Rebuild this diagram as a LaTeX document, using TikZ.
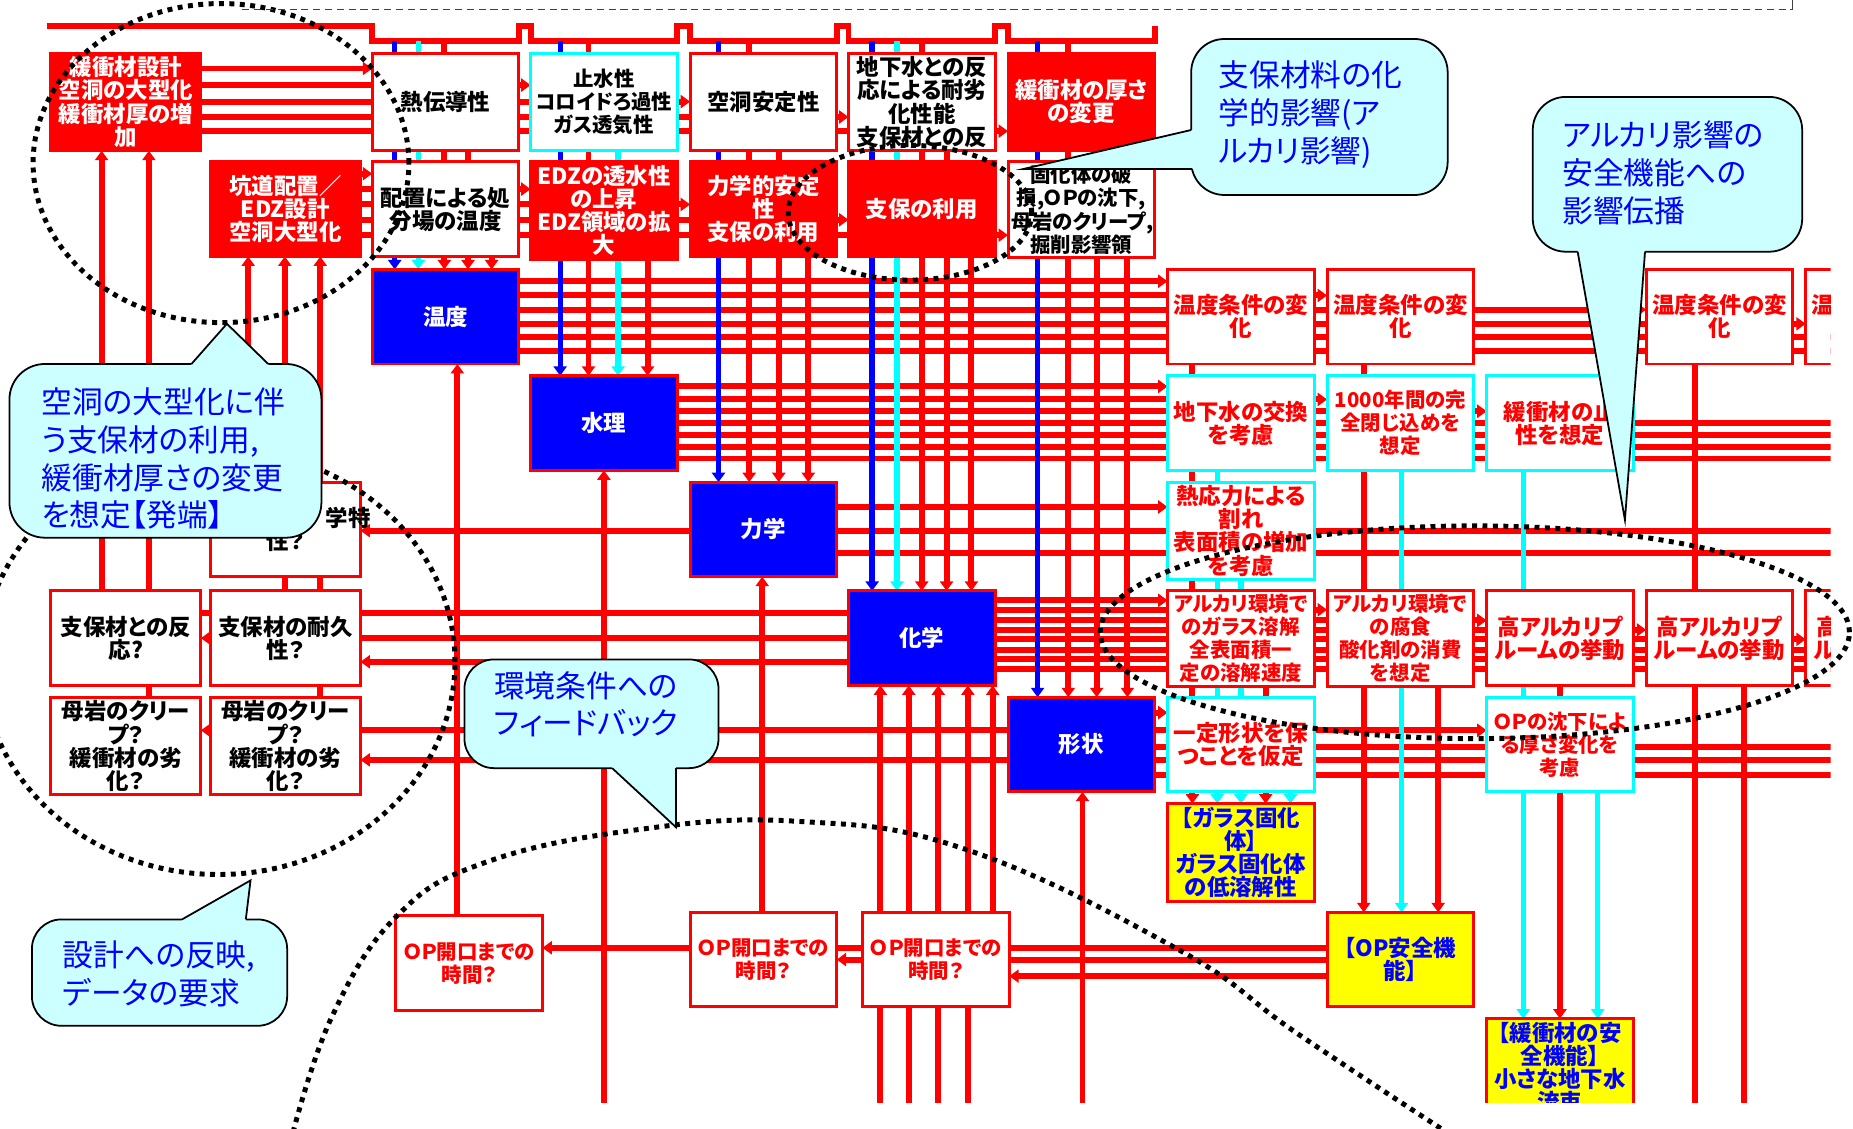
\documentclass[tikz,border=0pt]{standalone}
\usepackage{fontspec}
\usetikzlibrary{arrows.meta}
\newfontfamily\jp{Noto Sans CJK JP}[RawFeature=+palt]
\definecolor{cofill}{RGB}{204,255,255}
\definecolor{cy}{RGB}{0,255,255}
\definecolor{yl}{RGB}{255,255,0}
\definecolor{rd}{RGB}{255,0,0}
\definecolor{bu}{RGB}{0,0,255}
\newcommand\jpbox{\jp\bfseries\fontsize{19}{19.5}\selectfont}
\newcommand\jpboxs{\jp\bfseries\fontsize{17.3}{19.5}\selectfont}
\newcommand\jpbig{\jp\fontsize{26}{32}\selectfont}
\pgfdeclarelayer{lines}
\pgfsetlayers{lines,main}
\tikzset{
  rl/.style={draw=rd,line width=5pt},
  bl/.style={draw=bu,line width=4.5pt},
  cl/.style={draw=cy,line width=4.5pt},
  arr/.style={-{Triangle[length=8pt,width=11pt]}},
  bx/.style={draw=rd,line width=2.5pt,fill=white,text=black,anchor=north west,
     text width=118pt,inner sep=3pt,outer sep=0pt,minimum height=80pt,align=center,font=\jpbox},
  wide/.style={text width=121pt},
  tall/.style={minimum height=82pt},
  small/.style={font=\jpboxs},
  rbx/.style={bx,fill=rd,text=white},
  cbx/.style={bx,draw=cy,text=rd},
  tbx/.style={bx,text=rd},
  ybx/.style={bx,fill=yl,text=bu},
  bbx/.style={bx,fill=bu,text=white},
  cobody/.style={fill=cofill,draw=black,line width=1.5pt},
  coline/.style={draw=black,line width=1.5pt},
  cotext/.style={anchor=west,align=left,font=\jpbig,text=bu,inner sep=0pt},
  dotell/.style={draw=black,line width=4.2pt,dash pattern=on 4.2pt off 4.6pt},
}
\begin{document}
\begin{tikzpicture}[x=1pt,y=-1pt]
\useasboundingbox (0,0) rectangle (1568,955);
\coordinate (redge) at (1560,0);

% ---------------- boxes ----------------
\begin{scope}
\clip (0,-20) rectangle (1549,933);
\node[rbx,wide,tall] (kanshozai) at (43,45) {緩衝材設計\\空洞の大型化\\緩衝材厚の増\\加};
\node[rbx,wide] (koudo) at (178,137) {坑道配置／\\EDZ設計\\空洞大型化};

\node[bx,tall] (n11) at (315,45) {熱伝導性};
\node[bx,tall,draw=cy,small] (n12) at (449,45) {止水性\\コロイドろ過性\\ガス透気性};
\node[bx,tall] (n13) at (584,45) {空洞安定性};
\node[bx,tall] (n14) at (718,45) {地下水との反\\応による耐劣\\化性能\\支保材との反};
\node[rbx,tall] (n15) at (853,45) {緩衝材の厚さ\\の変更};

\node[bx] (n21) at (315,137) {配置による処\\分場の温度};
\node[rbx] (n22) at (449,137) {EDZの透水性\\の上昇\\EDZ領域の拡\\大};
\node[rbx] (n23) at (584,137) {力学的安定\\性\\支保の利用};
\node[rbx] (n24) at (718,137) {支保の利用};
\node[bx,small] (n25) at (853,137) {固化体の破\\損,ＯＰの沈下,\\母岩のクリープ,\\掘削影響領};

\node[bbx] (ondo) at (315,228) {温度};
\node[bbx] (suiri) at (449,318) {水理};
\node[bbx] (rikigaku) at (584,408) {力学};
\node[bbx] (kagaku) at (718,500) {化学};
\node[bbx] (keijo) at (853,590) {形状};

\node[tbx] (tA) at (988,228) {温度条件の変\\化};
\node[tbx] (tB) at (1123,228) {温度条件の変\\化};
\node[tbx] (tD) at (1393,228) {温度条件の変\\化};
\node[tbx] (tE) at (1528,228) {温度条件の変\\化};

\node[cbx] (hA) at (988,318) {地下水の交換\\を考慮};
\node[cbx,small] (hB) at (1123,318) {1000年間の完\\全閉じ込めを\\想定};
\node[cbx] (hC) at (1258,318) {緩衝材の止\\性を想定};

\node[cbx] (mA) at (988,408) {熱応力による\\割れ\\表面積の増加\\を考慮};

\node[tbx,small] (cA) at (988,500) {アルカリ環境で\\のガラス溶解\\全表面積一\\定の溶解速度};
\node[tbx,small] (cB) at (1123,500) {アルカリ環境で\\の腐食\\酸化剤の消費\\を想定};
\node[tbx] (cC) at (1258,500) {高アルカリプ\\ルームの挙動};
\node[tbx] (cD) at (1393,500) {高アルカリプ\\ルームの挙動};
\node[tbx] (cE) at (1528,500) {高アルカリプ\\ルームの挙動};

\node[cbx] (sA) at (988,590) {一定形状を保\\つことを仮定};
\node[cbx,small] (sC) at (1258,590) {ＯＰの沈下によ\\る厚さ変化を\\考慮};

\node[ybx,tall] (yA) at (988,680) {【ガラス固化\\体】\\ガラス固化体\\の低溶解性};
\node[ybx] (yB) at (1123,772) {【OP安全機\\能】};
\node[ybx] (yC) at (1258,862) {【緩衝材の安\\全機能】\\小さな地下水\\流束};

\node[tbx,small] (op1) at (335,775) {ＯＰ開口までの\\時間？};
\node[tbx,small] (op2) at (584,772) {ＯＰ開口までの\\時間？};
\node[tbx,small] (op3) at (730,772) {ＯＰ開口までの\\時間？};

\node[bx,wide] (lM) at (178,408) {\phantom{支保材の力}学特\\性？};
\node[bx,wide] (lC1) at (43,500) {支保材との反\\応?};
\node[bx,wide] (lC2) at (178,500) {支保材の耐久\\性？};
\node[bx,wide,tall] (lS1) at (43,590) {母岩のクリー\\プ？\\緩衝材の劣\\化？};
\node[bx,wide,tall] (lS2) at (178,590) {母岩のクリー\\プ？\\緩衝材の劣\\化？};
\end{scope}

% ---------------- connectors (under the boxes) ----------------
\begin{pgfonlayer}{lines}
\begin{scope}
\clip (0,-20) rectangle (1549,933);
% top bus
\draw[rl] (40,22) -- (315,22) -- (315,35) -- (439,35) -- (439,22) -- (449,22) -- (449,35)
  -- (573,35) -- (573,22) -- (584,22) -- (584,35) -- (708,35) -- (708,22) -- (718,22)
  -- (718,35) -- (842,35) -- (842,22) -- (853,22) -- (853,35) -- (977,35) -- (977,22);

% horizontal connectors
\foreach \y/\tg in {58/n11,72/n12,86/n13,99/n14,111/n15}
  \draw[rl,arr] (kanshozai.east |- 0,\y) -- (\tg.west |- 0,\y);
\foreach \y/\tg in {147/n21,160/n22,173/n23,186/n24,199/n25}
  \draw[rl,arr] (koudo.east |- 0,\y) -- (\tg.west |- 0,\y);
\foreach \y/\tg in {238/tA,250/tB,262/tD,274/tE}
  \draw[rl,arr] (ondo.east |- 0,\y) -- (\tg.west |- 0,\y);
\foreach \y in {285,297}
  \draw[rl] (ondo.east |- 0,\y) -- (redge |- 0,\y);
\foreach \y/\tg in {327/hA,338/hB,348/hC}
  \draw[rl,arr] (suiri.east |- 0,\y) -- (\tg.west |- 0,\y);
\foreach \y in {358,368,378,388}
  \draw[rl] (suiri.east |- 0,\y) -- (redge |- 0,\y);
\draw[rl,arr] (rikigaku.east |- 0,429) -- (mA.west |- 0,429);
\foreach \y in {449,468}
  \draw[rl] (rikigaku.east |- 0,\y) -- (redge |- 0,\y);
\draw[rl,arr] (rikigaku.west |- 0,449) -- (lM.east |- 0,449);
\foreach \y/\tg in {508/cA,516/cB,525/cC,533/cD,541/cE}
  \draw[rl,arr] (kagaku.east |- 0,\y) -- (\tg.west |- 0,\y);
\foreach \y in {550,558,566}
  \draw[rl] (kagaku.east |- 0,\y) -- (redge |- 0,\y);
\draw[rl,arr] (kagaku.west |- 0,519) -- (lC1.west |- 0,519);
\draw[rl,arr] (kagaku.west |- 0,540) -- (lC1.east |- 0,540);
\draw[rl,arr] (kagaku.west |- 0,560) -- (lC2.east |- 0,560);
\foreach \y/\tg in {603/sA,618/sC}
  \draw[rl,arr] (keijo.east |- 0,\y) -- (\tg.west |- 0,\y);
\foreach \y in {632,643,656}
  \draw[rl] (keijo.east |- 0,\y) -- (redge |- 0,\y);
\draw[rl,arr] (keijo.west |- 0,618) -- (lS1.east |- 0,618);
\draw[rl,arr] (keijo.west |- 0,643) -- (lS2.east |- 0,643);
\draw[rl,arr] (yB.west |- 0,802) -- (op1.east |- 0,802);
\draw[rl,arr] (yB.west |- 0,812) -- (op2.east |- 0,812);
\draw[rl,arr] (yB.west |- 0,826) -- (op3.east |- 0,826);

% vertical connectors, top part
\draw[bl,arr] (334,35) -- (334,0 |- ondo.north);
\draw[cl,arr] (354,35) -- (354,0 |- ondo.north);
\draw[rl,arr] (376,35) -- (376,0 |- ondo.north);
\draw[rl,arr] (396,0 |- n11.south) -- (396,0 |- ondo.north);
\draw[rl,arr] (416,0 |- n21.south) -- (416,0 |- ondo.north);

\draw[bl,arr] (474,35) -- (474,0 |- suiri.north);
\draw[rl,arr] (498,35) -- (498,0 |- suiri.north);
\draw[cl,arr] (523,0 |- n12.south) -- (523,0 |- suiri.north);
\draw[rl,arr] (548,0 |- n22.south) -- (548,0 |- suiri.north);

\draw[bl,arr] (608,35) -- (608,0 |- rikigaku.north);
\draw[rl,arr] (634,35) -- (634,0 |- rikigaku.north);
\draw[rl,arr] (659,0 |- n13.south) -- (659,0 |- rikigaku.north);
\draw[rl,arr] (684,0 |- n23.south) -- (684,0 |- rikigaku.north);

\draw[bl,arr] (738,35) -- (738,0 |- kagaku.north);
\draw[cl,arr] (759,35) -- (759,0 |- kagaku.north);
\draw[rl,arr] (780,35) -- (780,0 |- kagaku.north);
\draw[rl,arr] (801,0 |- n14.south) -- (801,0 |- kagaku.north);
\draw[rl,arr] (822,0 |- n24.south) -- (822,0 |- kagaku.north);

\draw[bl,arr] (878,35) -- (878,0 |- keijo.north);
\draw[rl,arr] (904,35) -- (904,0 |- keijo.north);
\draw[rl,arr] (928,0 |- n15.south) -- (928,0 |- keijo.north);
\draw[rl,arr] (954,0 |- n25.south) -- (954,0 |- keijo.north);

% vertical connectors, bottom part (upwards)
\draw[rl,arr] (387,0 |- op1.north) -- (387,0 |- ondo.south);
\draw[rl,arr] (511,940) -- (511,0 |- suiri.south);
\draw[rl,arr] (645,0 |- op2.north) -- (645,0 |- rikigaku.south);
\foreach \x in {745,769,794,819}
  \draw[rl,arr] (\x,940) -- (\x,0 |- kagaku.south);
\draw[rl,arr] (840,0 |- op3.north) -- (840,0 |- kagaku.south);
\draw[rl,arr] (916,940) -- (916,0 |- keijo.south);

% vertical connectors, right part (downwards)
\draw[rl,arr] (1009,0 |- tA.south) -- (1009,0 |- yA.north);
\draw[cl,arr] (1030,0 |- hA.south) -- (1030,0 |- yA.north);
\draw[cl,arr] (1050,0 |- mA.south) -- (1050,0 |- yA.north);
\draw[rl,arr] (1071,0 |- cA.south) -- (1071,0 |- yA.north);
\draw[cl,arr] (1092,0 |- sA.south) -- (1092,0 |- yA.north);
\draw[rl,arr] (1154,0 |- tB.south) -- (1154,0 |- yB.north);
\draw[cl,arr] (1186,0 |- hB.south) -- (1186,0 |- yB.north);
\draw[rl,arr] (1217,0 |- cB.south) -- (1217,0 |- yB.north);
\draw[cl,arr] (1289,0 |- hC.south) -- (1289,0 |- yC.north);
\draw[rl,arr] (1320,0 |- cC.south) -- (1320,0 |- yC.north);
\draw[cl,arr] (1352,0 |- sC.south) -- (1352,0 |- yC.north);
\draw[rl] (1434,0 |- tD.south) -- (1434,940);
\draw[rl] (1476,0 |- cD.south) -- (1476,940);

% vertical connectors, left part (upwards)
\draw[rl,arr] (86,0 |- lC1.north) -- (86,0 |- kanshozai.south);
\draw[rl,arr] (126,0 |- lS1.north) -- (126,0 |- kanshozai.south);
\draw[rl,arr] (210,0 |- lM.north) -- (210,0 |- koudo.south);
\draw[rl,arr] (241,0 |- lC2.north) -- (241,0 |- koudo.south);
\draw[rl,arr] (271,0 |- lS2.north) -- (271,0 |- koudo.south);
\end{scope}
\end{pgfonlayer}

% ---------------- dotted groupings ----------------
\draw[dotell] (187,138) ellipse [x radius=159pt, y radius=135pt];
\draw[dotell] (185,560) ellipse [x radius=200pt, y radius=180pt];
\draw[dotell] (770,180) ellipse [x radius=103pt, y radius=57pt];
\draw[dotell] (1248,535) ellipse [x radius=317pt, y radius=90pt];
\draw[dotell] plot[smooth,tension=0.7] coordinates {(248,958) (281,860) (335,776) (410,730) (540,702) (675,695) (818,719) (998,804) (1097,874) (1224,958)};

% top dashed line
\draw[black!75,line width=1.2pt,dash pattern=on 6pt off 4pt] (205,8) -- (1517,8);
\draw[black!75,line width=1.2pt] (1517,8) -- (1517,0);

% ---------------- callouts ----------------
\draw[cobody,rounded corners=28pt] (1008,33) rectangle (1225,165);
\fill[cofill] (1008,110) -- (866,143) -- (1009,143) -- (1012,143) -- (1012,110) -- cycle;
\draw[coline] (1008,110) -- (866,143) -- (1009,143);
\node[cotext] (co1) at (1031,97) {支保材料の化\\学的影響(ア\\ルカリ影響)};

\draw[cobody,rounded corners=28pt] (1297,82) rectangle (1525,213);
\fill[cofill] (1335,213) -- (1375,440) -- (1392,213) -- (1392,209) -- (1335,209) -- cycle;
\draw[coline] (1335,213) -- (1375,440) -- (1392,213);
\node[cotext] (co2) at (1322,146) {アルカリ影響の\\安全機能への\\影響伝播};

\draw[cobody,rounded corners=30pt] (8,308) rectangle (272,455);
\fill[cofill] (162,308) -- (192,274) -- (227,308) -- (227,312) -- (162,312) -- cycle;
\draw[coline] (162,308) -- (192,274) -- (227,308);
\node[cotext] (co3) at (35,388) {空洞の大型化に伴\\う支保材の利用,\\緩衝材厚さの変更\\を想定【発端】};

\draw[cobody,rounded corners=25pt] (393,558) rectangle (608,650);
\fill[cofill] (518,650) -- (572,700) -- (572,650) -- (572,646) -- (518,646) -- cycle;
\draw[coline] (518,650) -- (572,700) -- (572,650);
\node[cotext] (co4) at (418,596) {環境条件への\\フィードバック};

\draw[cobody,rounded corners=25pt] (27,778) rectangle (243,868);
\fill[cofill] (154,778) -- (212,745) -- (208,778) -- (208,782) -- (154,782) -- cycle;
\draw[coline] (154,778) -- (212,745) -- (208,778);
\node[cotext] (co5) at (53,824) {設計への反映,\\データの要求};
\end{tikzpicture}
\end{document}
